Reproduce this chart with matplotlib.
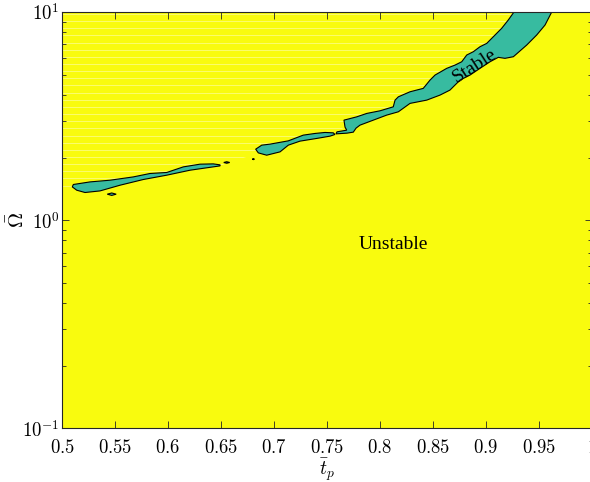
import matplotlib
matplotlib.use("Agg")
import matplotlib.pyplot as plt
from matplotlib.patches import Polygon
import numpy as np

plt.rcParams['mathtext.fontset'] = 'cm'

yellow = '#F9FB0E'
teal = '#37BBA0'
edge = '#262626'

# stable islands in the (t_p, Omega) plane, traced along their boundary
isl1_t = [0.5107, 0.5264, 0.5453, 0.5673, 0.5830, 0.5988, 0.6144, 0.6302, 0.6427, 0.6491,
          0.6491, 0.6208, 0.5988, 0.5767, 0.5547, 0.5358, 0.5217, 0.5139, 0.5097]
isl1_w = [1.485, 1.528, 1.557, 1.615, 1.677, 1.696, 1.804, 1.859, 1.865, 1.845,
          1.824, 1.739, 1.646, 1.569, 1.473, 1.383, 1.359, 1.394, 1.446]

isl2_t = [0.6827, 0.6884, 0.6962, 0.7135, 0.7276, 0.7387, 0.7481, 0.7559, 0.7575,
          0.7528, 0.7403, 0.7245, 0.7135, 0.7057, 0.6931, 0.6852]
isl2_w = [2.194, 2.294, 2.320, 2.406, 2.563, 2.611, 2.640, 2.629, 2.582,
          2.534, 2.471, 2.398, 2.294, 2.130, 2.053, 2.106]

# main band: upper edge going down-left, then lower edge going back up-right
band_upper_t = [0.931, 0.9264, 0.9210, 0.9148, 0.9069, 0.9007, 0.8943, 0.8880, 0.8818, 0.8771,
                0.8708, 0.8629, 0.8519, 0.8472, 0.8408, 0.8283, 0.8173, 0.8142, 0.8125,
                0.8000, 0.7875, 0.7780, 0.7660]
band_upper_w = [12.0, 10.0, 9.152, 8.351, 7.607, 7.070, 6.810, 6.445, 6.214, 5.769,
                5.562, 5.362, 4.979, 4.711, 4.298, 4.139, 3.915, 3.775, 3.505,
                3.354, 3.258, 3.137, 3.025]
band_lower_t = [0.7670, 0.7686, 0.7594, 0.7585, 0.7689, 0.7748, 0.7774, 0.7811, 0.7937, 0.8063,
                0.8173, 0.8283, 0.8441, 0.8566, 0.8660, 0.8755, 0.8849, 0.8943, 0.9038,
                0.9116, 0.9179, 0.9258, 0.9384, 0.9478, 0.9557, 0.9620, 0.966]
band_lower_w = [2.800, 2.708, 2.658, 2.599, 2.620, 2.649, 2.769, 2.862, 3.025, 3.198,
                3.317, 3.640, 3.775, 3.990, 4.217, 4.711, 4.979, 5.362, 5.769,
                6.057, 5.991, 6.098, 6.939, 7.752, 8.660, 10.0, 12.0]

# tiny closed contours
dot_t = [[0.5427, 0.5469, 0.5511, 0.5469],
         [0.6526, 0.6554, 0.6582, 0.6554],
         [0.6795, 0.6805, 0.6815, 0.6805]]
dot_w = [[1.334, 1.352, 1.334, 1.316],
         [1.894, 1.910, 1.894, 1.878],
         [1.965, 1.975, 1.965, 1.955]]

xticks = [0.5, 0.55, 0.6, 0.65, 0.7, 0.75, 0.8, 0.85, 0.9, 0.95, 1.0]
xlabels = ['0.5', '0.55', '0.6', '0.65', '0.7', '0.75', '0.8', '0.85', '0.9', '0.95', '1']
yticks = [0.1, 1, 10]
ylabels = ['10^{-1}', '10^{0}', '10^{1}']

fig = plt.figure(figsize=(5.9, 4.82), dpi=100)
ax = fig.add_axes([0.1051, 0.1110, 0.8983, 0.8641])
ax.set_yscale('log')
ax.set_xlim(0.5, 1.0)
ax.set_ylim(0.1, 10)
ax.set_facecolor(yellow)

band_t = band_upper_t + band_lower_t
band_w = band_upper_w + band_lower_w
shapes = [(isl1_t, isl1_w), (isl2_t, isl2_w), (band_t, band_w)]
shapes += list(zip(dot_t, dot_w))
for ts, ws in shapes:
    ax.fill(ts, ws, facecolor=teal, edgecolor='black', linewidth=0.8, zorder=2)

# faint row seams over the upper region of the filled contour
seam_clip = list(zip(band_lower_t[::-1], band_lower_w[::-1]))
seam_clip += list(zip(isl2_t[9:], isl2_w[9:]))
seam_clip += list(zip(isl1_t[10:], isl1_w[10:]))
seam_clip = [(0.5, 12.0)] + seam_clip + [(0.5, 1.446)]
clip = Polygon(seam_clip, closed=True, transform=ax.transData)
seams = 10 ** (1 - (2 + 7.14 * np.arange(0, 25)) / 208)
lc = ax.hlines(seams, 0.5, 1.0, colors='white', linewidth=0.7, alpha=0.4, zorder=1.5)
lc.set_clip_path(clip)

ax.text(0.8896, 5.5, 'Stable', rotation=33, fontsize=14, family='Liberation Serif',
        ha='center', va='center', zorder=3)
ax.text(0.8126, 0.767, 'Unstable', fontsize=14, family='Liberation Serif',
        ha='center', va='center', zorder=3)

ax.set_xticks(xticks)
ax.set_xticklabels(['$%s$' % s for s in xlabels])
ax.set_yticks(yticks)
ax.set_yticklabels(['$%s$' % s for s in ylabels])
ax.tick_params(which='both', direction='in', top=True, right=True, color=edge,
               labelsize=13.5, width=0.6)
ax.tick_params(which='major', length=5, pad=7)
ax.tick_params(axis='y', which='major', pad=2)
ax.tick_params(which='minor', length=3)
for sp in ax.spines.values():
    sp.set_color(edge)
    sp.set_linewidth(0.8)

ax.set_xlabel(r'$\bar{t}_p$', fontsize=14)
ax.set_ylabel(r'$\bar{\Omega}$', fontsize=15)
ax.xaxis.set_label_coords(0.5, -0.066)
ax.yaxis.set_label_coords(-0.085, 0.5)
ax.xaxis.label.set_va('top')
ax.yaxis.label.set_va('center')

fig.savefig('out.png', dpi=100)
